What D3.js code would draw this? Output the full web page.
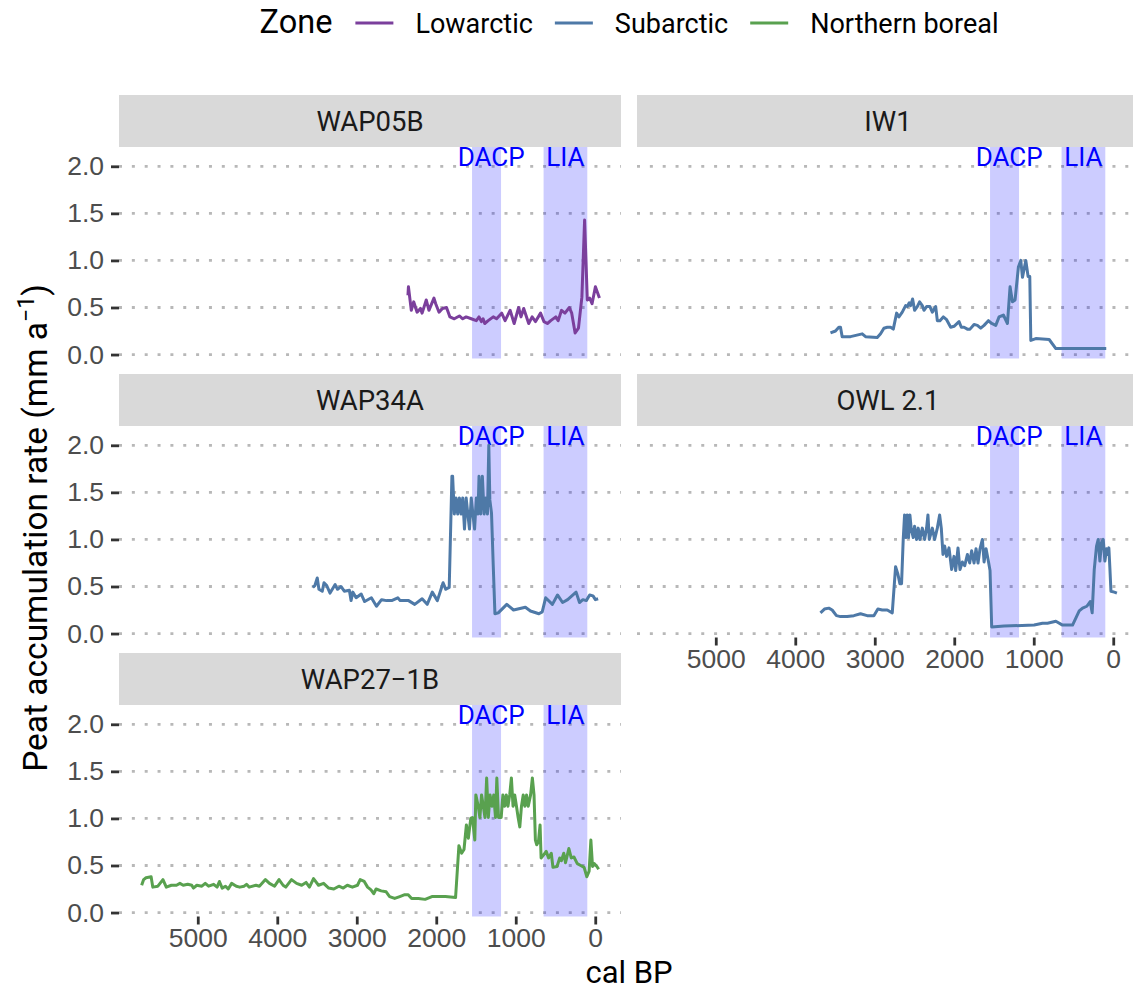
<!DOCTYPE html>
<html>
<head>
<meta charset="utf-8">
<script src="https://cdn.jsdelivr.net/npm/d3@7"></script>
<style>
  body { margin: 0; background: #fff; }
  svg { display: block; font-family: Roboto, "Liberation Sans", Arial, sans-serif; }
</style>
</head>
<body>
<div class="chart-section"></div>
<script>
// DATA: cal BP / peat accumulation rate (mm a-1)
const zones = ["Lowarctic", "Subarctic", "Northern boreal"];
const zoneColors = ["#7b3f9c", "#4e79a7", "#59a14f"];

const wap05b = [
  [2356, 0.63], [2350, 0.72], [2314, 0.47], [2284, 0.56], [2241, 0.45], [2199, 0.49],
  [2178, 0.44], [2126, 0.58], [2092, 0.47], [2029, 0.6], [2007, 0.54], [1965, 0.45],
  [1922, 0.49], [1871, 0.5], [1828, 0.4], [1773, 0.38], [1709, 0.41], [1667, 0.38],
  [1624, 0.4], [1560, 0.38], [1496, 0.36], [1462, 0.4], [1432, 0.35], [1411, 0.38],
  [1390, 0.33], [1347, 0.36], [1283, 0.4], [1241, 0.38], [1177, 0.44], [1134, 0.36],
  [1071, 0.47], [1020, 0.33], [964, 0.5], [934, 0.4], [900, 0.49], [837, 0.33],
  [794, 0.4], [751, 0.35], [688, 0.44], [645, 0.35], [602, 0.33], [560, 0.36],
  [496, 0.4], [466, 0.36], [424, 0.47], [381, 0.44], [326, 0.5], [296, 0.44],
  [253, 0.23], [211, 0.28], [168, 0.61], [134, 1.43], [100, 0.58], [70, 0.6],
  [40, 0.54], [-2, 0.72], [-28, 0.66], [-53, 0.6],
];

const iw1 = [
  [3557, 0.23], [3494, 0.25], [3452, 0.29], [3431, 0.29], [3410, 0.19], [3305, 0.19],
  [3158, 0.22], [3116, 0.19], [2969, 0.18], [2927, 0.22], [2885, 0.28], [2843, 0.29],
  [2801, 0.29], [2767, 0.27], [2725, 0.44], [2696, 0.4], [2654, 0.45], [2612, 0.52],
  [2591, 0.51], [2566, 0.55], [2549, 0.52], [2524, 0.59], [2499, 0.47], [2465, 0.51],
  [2436, 0.56], [2402, 0.52], [2381, 0.47], [2348, 0.51], [2306, 0.51], [2276, 0.45],
  [2234, 0.51], [2213, 0.36], [2180, 0.36], [2138, 0.4], [2096, 0.37], [2045, 0.29],
  [2003, 0.3], [1940, 0.35], [1911, 0.29], [1877, 0.29], [1835, 0.27], [1802, 0.27],
  [1751, 0.32], [1709, 0.31], [1667, 0.28], [1625, 0.31], [1571, 0.36], [1529, 0.33],
  [1478, 0.31], [1436, 0.4], [1382, 0.42], [1331, 0.33], [1298, 0.72], [1268, 0.56],
  [1235, 0.58], [1193, 0.93], [1163, 1.0], [1142, 0.82], [1100, 1.0], [1071, 0.83],
  [1050, 0.83], [1037, 0.15], [974, 0.17], [806, 0.16], [722, 0.064], [88, 0.064],
];

const wap34a = [
  [3553, 0.49], [3527, 0.51], [3497, 0.59], [3476, 0.47], [3434, 0.45], [3412, 0.54],
  [3378, 0.51], [3336, 0.43], [3272, 0.52], [3242, 0.47], [3199, 0.5], [3157, 0.45],
  [3093, 0.46], [3072, 0.35], [3050, 0.44], [3008, 0.38], [2944, 0.42], [2901, 0.34],
  [2816, 0.38], [2752, 0.29], [2688, 0.36], [2625, 0.35], [2561, 0.35], [2484, 0.38],
  [2454, 0.35], [2348, 0.35], [2271, 0.31], [2178, 0.37], [2114, 0.31], [2050, 0.44],
  [1986, 0.35], [1914, 0.54], [1880, 0.47], [1837, 0.49], [1803, 1.67], [1794, 1.67],
  [1773, 1.27], [1751, 1.44], [1730, 1.27], [1709, 1.44], [1688, 1.27], [1667, 1.44],
  [1645, 1.11], [1624, 1.44], [1603, 1.27], [1582, 1.11], [1560, 1.44], [1539, 1.27],
  [1518, 1.11], [1496, 1.44], [1475, 1.27], [1462, 1.67], [1441, 1.27], [1420, 1.67],
  [1398, 1.27], [1377, 1.44], [1356, 1.27], [1339, 2.0], [1326, 1.42], [1305, 1.28],
  [1283, 0.72], [1262, 0.21], [1220, 0.22], [1113, 0.31], [1028, 0.25], [879, 0.28],
  [815, 0.24], [709, 0.21], [667, 0.23], [624, 0.38], [539, 0.31], [475, 0.41],
  [411, 0.33], [347, 0.36], [241, 0.44], [198, 0.33], [155, 0.36], [113, 0.35],
  [70, 0.41], [28, 0.4], [-2, 0.36], [-36, 0.37],
];

const owl21 = [
  [3683, 0.22], [3633, 0.26], [3578, 0.27], [3536, 0.25], [3482, 0.19], [3431, 0.18],
  [3347, 0.18], [3263, 0.19], [3179, 0.21], [3095, 0.19], [3011, 0.19], [2961, 0.26],
  [2906, 0.25], [2843, 0.25], [2780, 0.22], [2738, 0.71], [2709, 0.63], [2684, 0.53],
  [2663, 0.53], [2642, 1.0], [2625, 1.26], [2608, 1.02], [2591, 1.26], [2575, 1.02],
  [2558, 1.26], [2541, 1.11], [2516, 1.02], [2499, 1.14], [2474, 1.0], [2453, 1.12],
  [2432, 1.0], [2402, 1.12], [2373, 1.0], [2348, 1.12], [2331, 1.26], [2314, 1.0],
  [2276, 1.12], [2247, 1.0], [2213, 1.12], [2184, 1.26], [2163, 1.12], [2142, 0.84],
  [2121, 0.93], [2096, 0.82], [2066, 0.91], [2033, 0.68], [2003, 0.82], [1982, 0.67],
  [1953, 0.91], [1928, 0.68], [1898, 0.76], [1869, 0.72], [1835, 0.84], [1806, 0.75],
  [1781, 0.88], [1751, 0.75], [1726, 0.9], [1701, 0.75], [1676, 0.9], [1646, 1.0],
  [1625, 0.76], [1600, 0.9], [1575, 0.79], [1550, 0.67], [1529, 0.07], [1373, 0.08],
  [995, 0.09], [890, 0.11], [827, 0.11], [722, 0.13], [638, 0.09], [512, 0.09],
  [428, 0.24], [386, 0.27], [332, 0.29], [290, 0.34], [265, 0.22], [239, 0.68],
  [210, 0.93], [189, 1.0], [168, 0.77], [147, 0.97], [126, 1.0], [105, 0.77],
  [84, 0.9], [71, 0.84], [55, 0.91], [42, 0.69], [29, 0.45], [-13, 0.44], [-46, 0.43],
];

const wap271b = [
  [5706, 0.29], [5681, 0.35], [5651, 0.37], [5587, 0.38], [5566, 0.27], [5502, 0.28],
  [5438, 0.35], [5396, 0.27], [5332, 0.29], [5268, 0.29], [5225, 0.31], [5183, 0.29],
  [5127, 0.3], [5076, 0.29], [5055, 0.26], [5012, 0.29], [4949, 0.28], [4906, 0.31],
  [4864, 0.28], [4800, 0.3], [4757, 0.27], [4728, 0.33], [4693, 0.26], [4651, 0.28],
  [4617, 0.25], [4574, 0.31], [4515, 0.28], [4472, 0.27], [4417, 0.28], [4387, 0.3],
  [4353, 0.27], [4268, 0.29], [4225, 0.28], [4149, 0.35], [4098, 0.31], [4034, 0.28],
  [3978, 0.35], [3927, 0.29], [3893, 0.27], [3821, 0.35], [3757, 0.31], [3693, 0.29],
  [3638, 0.32], [3595, 0.27], [3544, 0.36], [3481, 0.29], [3417, 0.31], [3353, 0.26],
  [3289, 0.25], [3225, 0.28], [3170, 0.26], [3119, 0.29], [3055, 0.27], [2991, 0.29],
  [2957, 0.35], [2906, 0.33], [2864, 0.27], [2821, 0.24], [2787, 0.2], [2757, 0.25],
  [2693, 0.23], [2630, 0.22], [2587, 0.17], [2523, 0.15], [2459, 0.17], [2396, 0.19],
  [2353, 0.19], [2310, 0.15], [2225, 0.15], [2140, 0.14], [2055, 0.17], [1970, 0.17],
  [1885, 0.17], [1757, 0.16], [1715, 0.71], [1681, 0.63], [1651, 0.67], [1621, 0.93],
  [1596, 0.79], [1566, 1.0], [1545, 1.01], [1515, 0.77], [1502, 1.25], [1472, 1.13],
  [1451, 1.01], [1430, 1.25], [1408, 1.13], [1387, 1.01], [1366, 1.43], [1345, 1.01],
  [1323, 1.25], [1298, 1.13], [1277, 1.25], [1255, 1.01], [1238, 1.43], [1217, 1.01],
  [1183, 1.01], [1162, 1.25], [1140, 1.13], [1119, 1.25], [1098, 1.13], [1076, 1.25],
  [1055, 1.43], [1034, 1.13], [1013, 1.25], [991, 1.13], [970, 1.01], [949, 0.91],
  [928, 1.13], [906, 1.25], [885, 1.13], [864, 1.25], [843, 1.13], [813, 1.25],
  [791, 1.43], [770, 1.25], [753, 0.77], [736, 0.72], [715, 0.75], [694, 0.93],
  [681, 0.58], [651, 0.61], [617, 0.65], [587, 0.58], [553, 0.63], [532, 0.48],
  [481, 0.49], [447, 0.58], [426, 0.55], [396, 0.63], [374, 0.53], [332, 0.68],
  [302, 0.58], [268, 0.59], [226, 0.52], [183, 0.5], [140, 0.48], [106, 0.38],
  [77, 0.44], [55, 0.77], [34, 0.49], [13, 0.52], [-21, 0.49], [-43, 0.46],
];

const siteNames = ["WAP05B", "IW1", "WAP34A", "OWL 2.1", "WAP27\u22121B"];
const siteZones = ["Lowarctic", "Subarctic", "Subarctic", "Subarctic", "Northern boreal"];
const siteSeries = [wap05b, iw1, wap34a, owl21, wap271b];

// climate periods (cal BP)
const periodNames = ["DACP", "LIA"];
const periodStart = [1550, 650];
const periodEnd = [1185, 100];
const periodLabelBP = [1310, 375];
const periodLabelRate = 2.1;

const xTicks = [5000, 4000, 3000, 2000, 1000, 0];
const yTicks = [0, 0.5, 1, 1.5, 2];

// LAYOUT
const width = 1133;
const height = 991;
const colX = [119, 637];
const rowY = [95, 374, 653];
const panelW = 502;
const stripH = 52;
const panelH = 211.5;

const svg = d3
  .select(".chart-section")
  .append("svg")
  .attr("width", width)
  .attr("height", height)
  .attr("viewBox", [0, 0, width, height]);

const x = d3.scaleLinear().domain([5991, -324]).range([0, panelW]);
const y = d3.scaleLinear().domain([-0.042, 2.205]).range([panelH, 0]);
const color = d3.scaleOrdinal().domain(zones).range(zoneColors);

const line = d3
  .line()
  .x((d) => x(d[0]))
  .y((d) => y(d[1]));

svg
  .append("defs")
  .append("clipPath")
  .attr("id", "panel-clip")
  .append("rect")
  .attr("width", panelW)
  .attr("height", panelH);

siteNames.forEach((name, i) => {
  const col = i % 2;
  const row = Math.floor(i / 2);
  const g = svg
    .append("g")
    .attr("transform", `translate(${colX[col]},${rowY[row]})`);

  // strip
  g.append("rect")
    .attr("width", panelW)
    .attr("height", stripH)
    .attr("fill", "#d9d9d9");
  g.append("text")
    .attr("x", panelW / 2)
    .attr("y", stripH / 2)
    .attr("dy", "0.36em")
    .attr("text-anchor", "middle")
    .attr("font-size", 27.5)
    .attr("fill", "#1a1a1a")
    .text(name);

  const p = g.append("g").attr("transform", `translate(0,${stripH})`);

  // dotted horizontal grid
  p.append("g")
    .selectAll("line")
    .data(yTicks)
    .join("line")
    .attr("x1", 0)
    .attr("x2", panelW)
    .attr("y1", (d) => y(d))
    .attr("y2", (d) => y(d))
    .attr("stroke", "#b8b8b8")
    .attr("stroke-width", 2.8)
    .attr("stroke-dasharray", "3 9.85");

  // period bands
  p.append("g")
    .selectAll("rect")
    .data(periodNames)
    .join("rect")
    .attr("x", (d, k) => x(periodStart[k]))
    .attr("width", (d, k) => x(periodEnd[k]) - x(periodStart[k]))
    .attr("y", 0)
    .attr("height", panelH)
    .attr("fill", "blue")
    .attr("fill-opacity", 0.2);

  p.append("g")
    .selectAll("text")
    .data(periodNames)
    .join("text")
    .attr("x", (d, k) => x(periodLabelBP[k]))
    .attr("y", y(periodLabelRate))
    .attr("dy", "0.36em")
    .attr("text-anchor", "middle")
    .attr("font-size", 26)
    .attr("fill", "#0000ff")
    .text((d) => d);

  p.append("path")
    .datum(siteSeries[i])
    .attr("clip-path", "url(#panel-clip)")
    .attr("fill", "none")
    .attr("stroke", color(siteZones[i]))
    .attr("stroke-width", 3)
    .attr("stroke-linejoin", "round")
    .attr("d", line);

  // y axis on the left column
  if (col === 0) {
    const ya = p
      .append("g")
      .call(
        d3.axisLeft(y).tickValues(yTicks).tickFormat(d3.format(".1f")).tickSize(8).tickPadding(7)
      );
    ya.select(".domain").remove();
    ya.selectAll(".tick line").attr("stroke", "#333333").attr("stroke-width", 2.8);
    ya.selectAll(".tick text")
      .attr("font-size", 26.5)
      .attr("font-family", null)
      .attr("fill", "#4d4d4d");
  }

  // x axis on the lowest panel of each column
  if (row === 2 || (row === 1 && col === 1)) {
    const xa = p
      .append("g")
      .attr("transform", `translate(0,${panelH})`)
      .call(
        d3.axisBottom(x).tickValues(xTicks).tickFormat(d3.format("d")).tickSize(8).tickPadding(4)
      );
    xa.select(".domain").remove();
    xa.selectAll(".tick line").attr("stroke", "#333333").attr("stroke-width", 2.8);
    xa.selectAll(".tick text")
      .attr("font-size", 26.5)
      .attr("font-family", null)
      .attr("fill", "#4d4d4d");
  }
});

// axis titles
svg
  .append("text")
  .attr("x", (colX[0] + colX[1] + panelW) / 2)
  .attr("y", 983)
  .attr("text-anchor", "middle")
  .attr("font-size", 31)
  .attr("fill", "#000")
  .text("cal BP");

const yTitle = svg
  .append("text")
  .attr("transform", "translate(47,528) rotate(-90)")
  .attr("text-anchor", "middle")
  .attr("font-size", 33.5)
  .attr("fill", "#000");
yTitle.append("tspan").text("Peat accumulation rate (mm a");
yTitle.append("tspan").attr("font-size", 23).attr("dy", -13).text("\u22121");
yTitle.append("tspan").attr("dy", 13).text(")");

// LEGEND
const legend = svg.append("g").attr("id", "legend");
const legendTitle = legend
  .append("text")
  .attr("y", 33)
  .attr("font-size", 32.5)
  .attr("fill", "#000")
  .text("Zone");

let cursor = legendTitle.node().getComputedTextLength() + 23;
zones.forEach((z) => {
  legend
    .append("line")
    .attr("x1", cursor)
    .attr("x2", cursor + 38)
    .attr("y1", 23)
    .attr("y2", 23)
    .attr("stroke", color(z))
    .attr("stroke-width", 3.2);
  cursor += 38 + 22;
  const t = legend
    .append("text")
    .attr("x", cursor)
    .attr("y", 33)
    .attr("font-size", 27)
    .attr("fill", "#000")
    .text(z);
  cursor += t.node().getComputedTextLength() + 22;
});
cursor -= 22;
legend.attr("transform", `translate(${629 - cursor / 2},0)`);
</script>
</body>
</html>
